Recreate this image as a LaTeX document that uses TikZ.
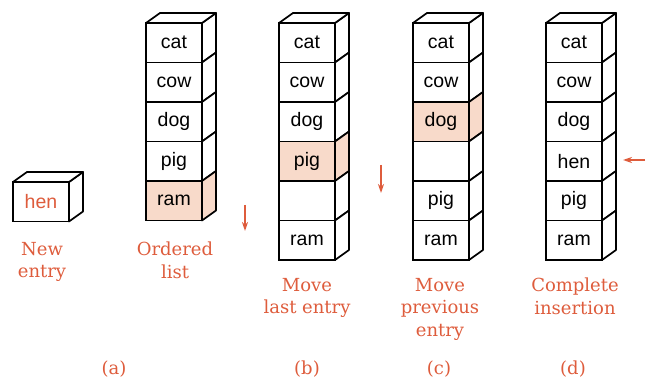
\documentclass[tikz,border=0pt]{standalone}
\usepackage{fontspec}
\newfontfamily\cellfont{Liberation Sans}
\newfontfamily\capfont{DejaVu Serif}
\usepackage{tikz}
\usetikzlibrary{arrows.meta}
\definecolor{accRed}{RGB}{222, 92, 60}
\definecolor{accPeach}{RGB}{248, 218, 202}

% one column of boxes: name, left edge, top edge, entries word/style
\newcommand{\stackcol}[4]{%
  \foreach \w/\f [count=\i] in {#4} {
    \node[cell, \f] (#1\i) at (#2+28, #3-19.75+39.5*\i) {\w};
    \draw[face, \f] (#1\i.north east) -- ++(14,-10) -- ++(0,39.5) -- (#1\i.south east) -- cycle;
  }
  \draw[face, fill=white] (#11.north west) -- ++(14,-10) -- ++(56,0) -- (#11.north east) -- cycle;
}

\begin{document}
\begin{tikzpicture}[x=1pt, y=-1pt,
    cell/.style={draw, line width=1.7pt, outer sep=0pt, inner sep=0pt,
      minimum width=56pt, minimum height=39.5pt, font=\cellfont\fontsize{19.5}{20}\selectfont},
    face/.style={line width=1.7pt, line join=round},
    plain/.style={fill=white},
    hl/.style={fill=accPeach},
    newent/.style={fill=white, text=accRed},
    caption/.style={accRed, font=\capfont\fontsize{18}{22.5}\selectfont, align=center, anchor=north, inner sep=0pt},
    move/.style={accRed, line width=1.3pt, -{Stealth[length=9pt, width=6pt]}}]
    \useasboundingbox (0,0) rectangle (646,379);

    \stackcol{h}{13}{182}{hen/newent}
    \stackcol{a}{146}{23}{cat/plain, cow/plain, dog/plain, pig/plain, ram/hl}
    \stackcol{b}{279}{23}{cat/plain, cow/plain, dog/plain, pig/hl, {}/plain, ram/plain}
    \stackcol{c}{413}{23}{cat/plain, cow/plain, dog/hl, {}/plain, pig/plain, ram/plain}
    \stackcol{d}{546}{23}{cat/plain, cow/plain, dog/plain, hen/plain, pig/plain, ram/plain}

    % shift arrows
    \coordinate (s1) at (245,205);
    \coordinate (e1) at (245,231);
    \coordinate (s2) at (381,165);
    \coordinate (e2) at (381,193);
    \coordinate (s3) at (645,160);
    \coordinate (e3) at (623,160);
    \draw[move] (s1) -- (e1);
    \draw[move] (s2) -- (e2);
    \draw[move] (s3) -- (e3);

    \node[caption] (capn) at (42,242) {New\\entry};
    \node[caption] (capo) at (175,242) {Ordered\\list};
    \node[caption] (capb) at (307,278) {Move\\last entry};
    \node[caption] (capc) at (440,278) {Move\\previous\\entry};
    \node[caption] (capd) at (575,278) {Complete\\insertion};

    \node[caption, anchor=center] (taga) at (114,369) {(a)};
    \node[caption, anchor=center] (tagb) at (307,369) {(b)};
    \node[caption, anchor=center] (tagc) at (439,369) {(c)};
    \node[caption, anchor=center] (tagd) at (573,369) {(d)};
\end{tikzpicture}
\end{document}
